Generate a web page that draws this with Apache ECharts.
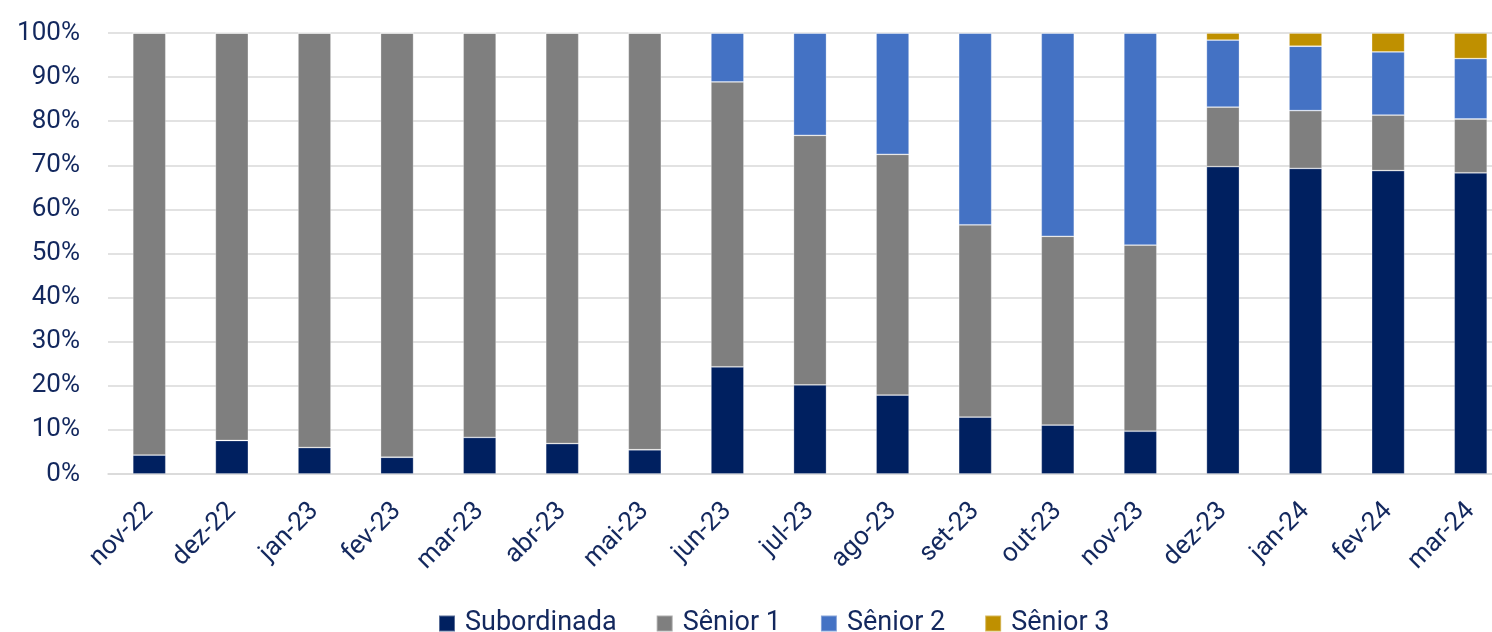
<!DOCTYPE html>
<html>
<head>
<meta charset="utf-8">
<script src="https://cdn.jsdelivr.net/npm/echarts@6/dist/echarts.min.js"></script>
<style>html,body{margin:0;padding:0;background:#fff;overflow:hidden;width:1492px;height:632px}#c{width:1520px;height:632px}</style>
</head>
<body>
<div id="c"></div>
<script>
const categories = ['nov-22','dez-22','jan-23','fev-23','mar-23','abr-23','mai-23','jun-23','jul-23','ago-23','set-23','out-23','nov-23','dez-23','jan-24','fev-24','mar-24'];
const subordinada = [4.3, 7.6, 6.0, 3.8, 8.3, 6.9, 5.5, 24.3, 20.2, 17.9, 12.9, 11.1, 9.7, 69.7, 69.3, 68.8, 68.3];
const senior1 = [95.7, 92.4, 94.0, 96.2, 91.7, 93.1, 94.5, 64.6, 56.6, 54.6, 43.6, 42.8, 42.2, 13.5, 13.1, 12.6, 12.2];
const senior2 = [0, 0, 0, 0, 0, 0, 0, 11.1, 23.2, 27.5, 43.5, 46.1, 48.1, 15.2, 14.6, 14.3, 13.7];
const senior3 = [0, 0, 0, 0, 0, 0, 0, 0, 0, 0, 0, 0, 0, 1.6, 3.0, 4.3, 5.8];
const yTicks = [0, 10, 20, 30, 40, 50, 60, 70, 80, 90, 100];

const textColor = '#13285e';
const font = 'Roboto';
const chart = echarts.init(document.getElementById('c'), null, {renderer: 'canvas'});
function s(name, data, color) {
  return {name, type: 'bar', stack: 't', data, barWidth: 33,
    itemStyle: {color, borderColor: 'rgba(255,255,255,0.35)', borderWidth: 0.8}};
}
chart.setOption({
  animation: false,
  textStyle: {fontFamily: font},
  grid: {left: 108, top: 33, width: 1404, height: 441, containLabel: false},
  xAxis: {type: 'category', data: categories,
    axisLine: {show: true, lineStyle: {color: '#d9d9d9', width: 1.5}},
    axisTick: {show: false},
    axisLabel: {rotate: 45, color: textColor, fontSize: 26, fontFamily: font, margin: 33}},
  yAxis: {type: 'value', min: yTicks[0], max: yTicks[yTicks.length - 1], interval: 10,
    axisLine: {show: false}, axisTick: {show: false},
    splitLine: {lineStyle: {color: '#d9d9d9', width: 1.5}},
    axisLabel: {color: textColor, fontSize: 26, fontFamily: font, margin: 28, formatter: v => v + '%'}},
  legend: {top: 605, left: 433, itemWidth: 16, itemHeight: 16, itemGap: 39,
    icon: 'rect', textStyle: {color: textColor, fontSize: 27, fontFamily: font, padding: [0, 0, 0, 5]},
    data: ['Subordinada', 'Sênior 1', 'Sênior 2', 'Sênior 3']},
  series: [
    s('Subordinada', subordinada, '#002060'),
    s('Sênior 1', senior1, '#7f7f7f'),
    s('Sênior 2', senior2, '#4472c4'),
    s('Sênior 3', senior3, '#bf9000')
  ]
});
</script>
</body>
</html>
